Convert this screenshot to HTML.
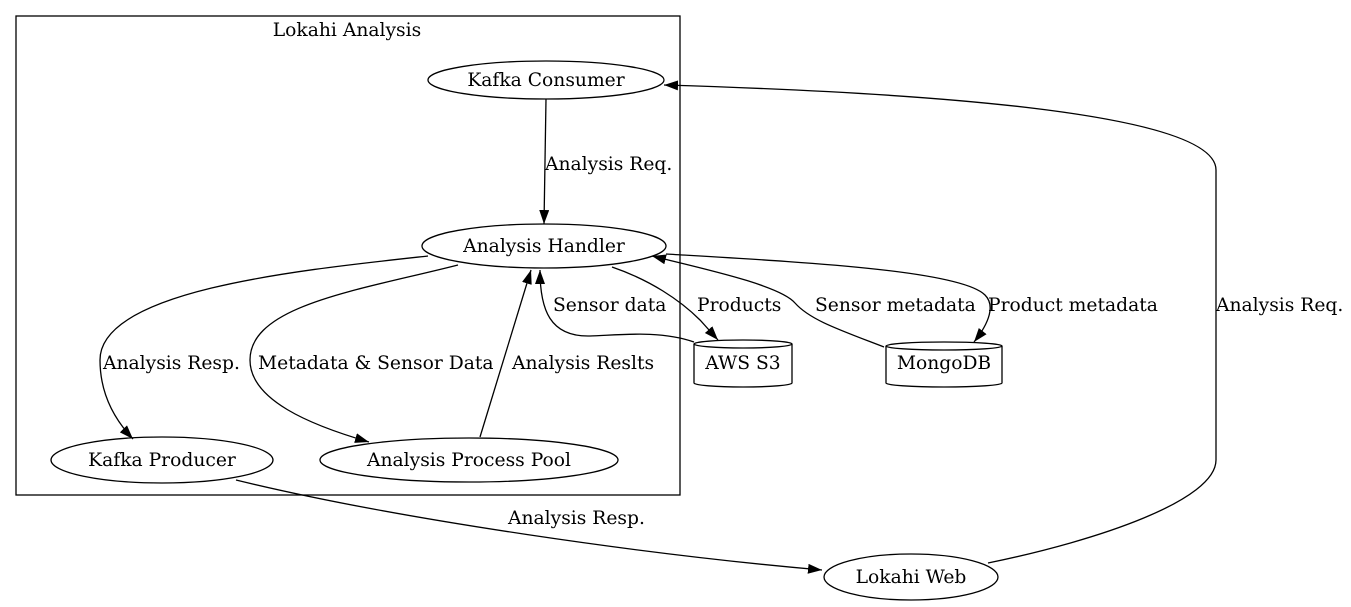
<!DOCTYPE html>
<html><head><meta charset="utf-8"><style>
html,body{margin:0;padding:0;background:#fff;}
svg{display:block;}
text{font-family:"DejaVu Serif","Liberation Serif",serif;font-size:18.7px;fill:#000;}
</style></head><body>
<svg width="1351" height="607" viewBox="0 0 1351 607" xmlns="http://www.w3.org/2000/svg">
<defs>
<marker id="a" markerUnits="userSpaceOnUse" markerWidth="15" markerHeight="11" refX="14" refY="5" orient="auto">
<path d="M0,0 L14,5 L0,10 z" fill="#000"/>
</marker>
</defs>
<g fill="none" stroke="#000" stroke-width="1.3">
<rect x="16" y="16" width="664" height="479"/>
<ellipse cx="546" cy="80" rx="118" ry="19"/>
<ellipse cx="544" cy="246" rx="122" ry="22"/>
<ellipse cx="162" cy="460" rx="111" ry="23"/>
<ellipse cx="469" cy="460" rx="149" ry="22"/>
<ellipse cx="911" cy="577" rx="87" ry="23"/>
<path d="M694,344 A49,4 0 0 1 792,344 L792,383 A49,4 0 0 1 694,383 Z"/>
<path d="M694,344 A49,4 0 0 0 792,344"/>
<path d="M886,346 A58,4 0 0 1 1002,346 L1002,383 A58,4 0 0 1 886,383 Z"/>
<path d="M886,346 A58,4 0 0 0 1002,346"/>

<path d="M546,99 L544,224" marker-end="url(#a)"/>
<path d="M428,256 C300,270 100,290 100,360 C100,395 115,420 133,439" marker-end="url(#a)"/>
<path d="M458,265 C360,290 250,305 250,360 C250,400 310,425 369,442" marker-end="url(#a)"/>
<path d="M480,437 L531,270" marker-end="url(#a)"/>
<path d="M694,342 C660,330 620,335 590,336 C550,337 540,310 540,270" marker-end="url(#a)"/>
<path d="M612,267 C650,280 680,300 700,320 L718,340" marker-end="url(#a)"/>
<path d="M884,347 C840,330 810,320 795,303 C780,285 700,268 652,256" marker-end="url(#a)"/>
<path d="M666,254 C800,262 960,270 985,295 C995,305 990,322 974,342" marker-end="url(#a)"/>
<path d="M988,563 C1100,540 1216,500 1216,460 L1216,170 C1216,110 900,92 664,85" marker-end="url(#a)"/>
<path d="M236,480 C400,520 650,555 822,570" marker-end="url(#a)"/>
</g>
<text x="347" y="36" text-anchor="middle">Lokahi Analysis</text>
<text x="546" y="86" text-anchor="middle">Kafka Consumer</text>
<text x="544" y="252" text-anchor="middle">Analysis Handler</text>
<text x="162" y="466" text-anchor="middle">Kafka Producer</text>
<text x="469" y="466" text-anchor="middle">Analysis Process Pool</text>
<text x="911" y="583" text-anchor="middle">Lokahi Web</text>
<text x="743" y="369" text-anchor="middle">AWS S3</text>
<text x="944" y="369" text-anchor="middle">MongoDB</text>
<text x="545" y="170">Analysis Req.</text>
<text x="103" y="369">Analysis Resp.</text>
<text x="258" y="369">Metadata &amp; Sensor Data</text>
<text x="512" y="369">Analysis Reslts</text>
<text x="553" y="311">Sensor data</text>
<text x="697" y="311">Products</text>
<text x="815" y="311">Sensor metadata</text>
<text x="988" y="311">Product metadata</text>
<text x="1216" y="311">Analysis Req.</text>
<text x="508" y="524">Analysis Resp.</text>
</svg>
</body></html>
